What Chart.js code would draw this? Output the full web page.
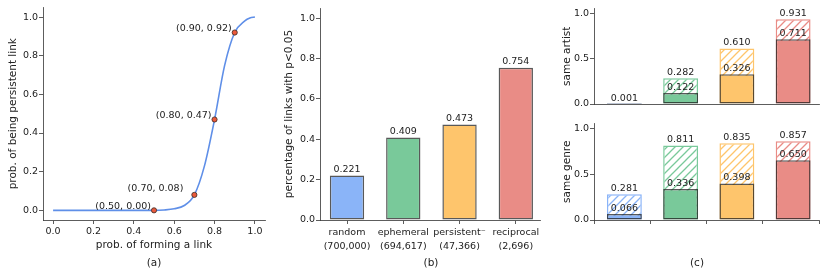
<!DOCTYPE html>
<html><head><meta charset="utf-8">
<script src="https://cdn.jsdelivr.net/npm/chart.js@4/dist/chart.umd.min.js"></script>
<style>
body{margin:0;background:#fff;width:830px;height:271px;position:relative;overflow:hidden;font-family:'DejaVu Sans',sans-serif}
canvas{position:absolute}
.tag{position:absolute;width:40px;text-align:center;font-size:10.5px;color:#222;line-height:14px}
</style></head><body>
<canvas id="ca" width="272" height="256" style="left:0;top:0"></canvas>
<canvas id="cb" width="276" height="256" style="left:270px;top:0"></canvas>
<canvas id="cc1" width="275" height="111" style="left:550px;top:0"></canvas>
<canvas id="cc2" width="275" height="144" style="left:550px;top:112px"></canvas>
<div class="tag" style="left:134px;top:255px">(a)</div>
<div class="tag" style="left:411px;top:255px">(b)</div>
<div class="tag" style="left:677px;top:255px">(c)</div>
<script>
// (a) curve
const curveX=[0,0.3,0.5,0.55,0.6,0.65,0.7,0.75,0.8,0.85,0.9,0.95,0.975,1.0];
const curveY=[0,0,0,0.002,0.008,0.025,0.08,0.23,0.47,0.75,0.92,0.98,0.995,1.0];
const markX=[0.5,0.7,0.8,0.9];
const markY=[0.00,0.08,0.47,0.92];

// bar groups
const groups=['random','ephemeral','persistent\u207B','reciprocal'];
const groupCounts=['(700,000)','(694,617)','(47,366)','(2,696)'];
const sigShare=[0.221,0.409,0.473,0.754];
const artistAll=[0.001,0.282,0.610,0.931];
const artistCore=[0.001,0.122,0.326,0.711];
const genreAll=[0.281,0.811,0.835,0.857];
const genreCore=[0.066,0.336,0.398,0.650];

const colors=['#8ab4f8','#79c99a','#fec56c','#e98c86'];
const EDGE='rgba(25,25,25,0.72)';
const INK='#333';
const FS=9.5, TS=10.5;

Chart.defaults.font.family="'DejaVu Sans', sans-serif";
Chart.defaults.font.size=FS;
Chart.defaults.color='#222';
Chart.defaults.animation=false;
Chart.defaults.plugins.legend.display=false;
Chart.defaults.plugins.tooltip.enabled=false;

const grid={drawOnChartArea:false,tickLength:4,color:INK,lineWidth:0.8,offset:false};
const border={color:INK,width:0.8};

function yAxis(min,max,step,w,title,pad){
  return {type:'linear',min,max,
    ticks:{stepSize:step,includeBounds:false,padding:1,callback:v=>v.toFixed(1)},
    grid,border,
    title:{display:!!title,text:title,font:{size:TS},padding:{top:pad,bottom:0}},
    afterFit:s=>{s.width=w;}};
}
function groupAxis(min,max,h,show){
  return {type:'linear',min,max,offset:false,
    ticks:{display:show,stepSize:1,includeBounds:false,padding:2,maxRotation:0,autoSkip:false,
      font:{lineHeight:1.45},
      callback:v=>Number.isInteger(v)&&groups[v]?[groups[v],groupCounts[v]]:''},
    grid:Object.assign({},grid,{drawTicks:show}),border,
    afterFit:s=>{s.height=h;}};
}

function hatch(color){
  const c=document.createElement('canvas');c.width=c.height=8;
  const g=c.getContext('2d');
  g.fillStyle='#fff';g.fillRect(0,0,8,8);
  g.strokeStyle=color;g.lineWidth=1.3;
  g.beginPath();
  g.moveTo(0,8);g.lineTo(8,0);
  g.moveTo(-2,2);g.lineTo(2,-2);
  g.moveTo(6,10);g.lineTo(10,6);
  g.stroke();
  return g.createPattern(c,'repeat');
}

const valueLabels={id:'valueLabels',afterDatasetsDraw(chart){
  const ctx=chart.ctx;ctx.save();
  ctx.font=FS+"px 'DejaVu Sans'";ctx.fillStyle='#222';ctx.textAlign='center';ctx.textBaseline='bottom';
  chart.data.datasets.forEach((ds,i)=>{
    if(!ds.valueText)return;
    chart.getDatasetMeta(i).data.forEach((bar,j)=>{
      const t=ds.valueText[j];if(t)ctx.fillText(t,bar.x,bar.y-1);
    });
  });
  ctx.restore();
}};

const shifts=[[-3,-4],[-11,-6],[-3,-4],[-3,-4]];
const pointText={id:'pointText',afterDatasetsDraw(chart){
  const ctx=chart.ctx;ctx.save();
  ctx.font=FS+"px 'DejaVu Sans'";ctx.fillStyle='#222';ctx.textAlign='right';ctx.textBaseline='middle';
  chart.getDatasetMeta(0).data.forEach((p,i)=>{
    ctx.fillText('('+markX[i].toFixed(2)+', '+markY[i].toFixed(2)+')',p.x+shifts[i][0],p.y+shifts[i][1]);
  });
  ctx.restore();
}};

// (a)
new Chart(document.getElementById('ca'),{type:'line',
  data:{datasets:[
    {data:markX.map((x,i)=>({x,y:markY[i]})),showLine:false,pointRadius:2.6,
      pointBackgroundColor:'#ea5a3c',pointBorderColor:'#3b2b26',pointBorderWidth:0.8},
    {data:curveX.map((x,i)=>({x,y:curveY[i]})),borderColor:'#5f8fe8',borderWidth:1.6,
      pointRadius:0,cubicInterpolationMode:'monotone'}
  ]},
  options:{responsive:false,layout:{padding:{top:7.4,right:7}},
    scales:{
      x:{type:'linear',min:-0.05,max:1.05,
        ticks:{stepSize:0.2,includeBounds:false,padding:2,maxRotation:0,callback:v=>v.toFixed(1)},
        grid,border,
        title:{display:true,text:'prob. of forming a link',font:{size:TS},padding:{top:0,bottom:4.7}},
        afterFit:s=>{s.height=36;}},
      y:yAxis(-0.05,1.05,0.2,43,'prob. of being persistent link',6.7)
    }},
  plugins:[pointText]});

// (b)
new Chart(document.getElementById('cb'),{type:'bar',
  data:{datasets:[{data:sigShare.map((v,i)=>({x:i,y:v})),
    backgroundColor:colors,borderColor:EDGE,borderWidth:1.5,borderSkipped:false,
    categoryPercentage:1,barPercentage:0.61,valueText:sigShare.map(v=>v.toFixed(3))}]},
  options:{responsive:false,layout:{padding:{top:8,right:6}},
    scales:{x:groupAxis(-0.48,3.43,36,true),
      y:yAxis(0,1.05,0.2,50,'percentage of links with p<0.05',12.7)}},
  plugins:[valueLabels]});

// (c)
function pairChart(id,core,all,title,pad,showX){
  return new Chart(document.getElementById(id),{type:'bar',
    data:{datasets:[
      {data:core.map((v,i)=>({x:i,y:v})),backgroundColor:colors,borderColor:EDGE,borderWidth:1.5,
        borderSkipped:false,grouped:false,categoryPercentage:1,barPercentage:0.62,
        valueText:core.map((v,i)=>v===all[i]?'':v.toFixed(3))},
      {data:all.map((v,i)=>({x:i,y:v})),backgroundColor:colors.map(c=>hatch(c)),borderColor:colors,borderWidth:1.5,
        borderSkipped:false,grouped:false,categoryPercentage:1,barPercentage:0.62,
        valueText:all.map(v=>v.toFixed(3))}
    ]},
    options:{responsive:false,layout:{padding:pad},
      scales:{x:groupAxis(-0.54,3.46,showX?36:0,showX),
        y:yAxis(0,1.05,0.5,44,title,10.7)}},
    plugins:[valueLabels]});
}
pairChart('cc1',artistCore,artistAll,'same artist',{top:8.5,right:6,bottom:7},false);
pairChart('cc2',genreCore,genreAll,'same genre',{top:11.5,right:6},true);
</script>
</body></html>
